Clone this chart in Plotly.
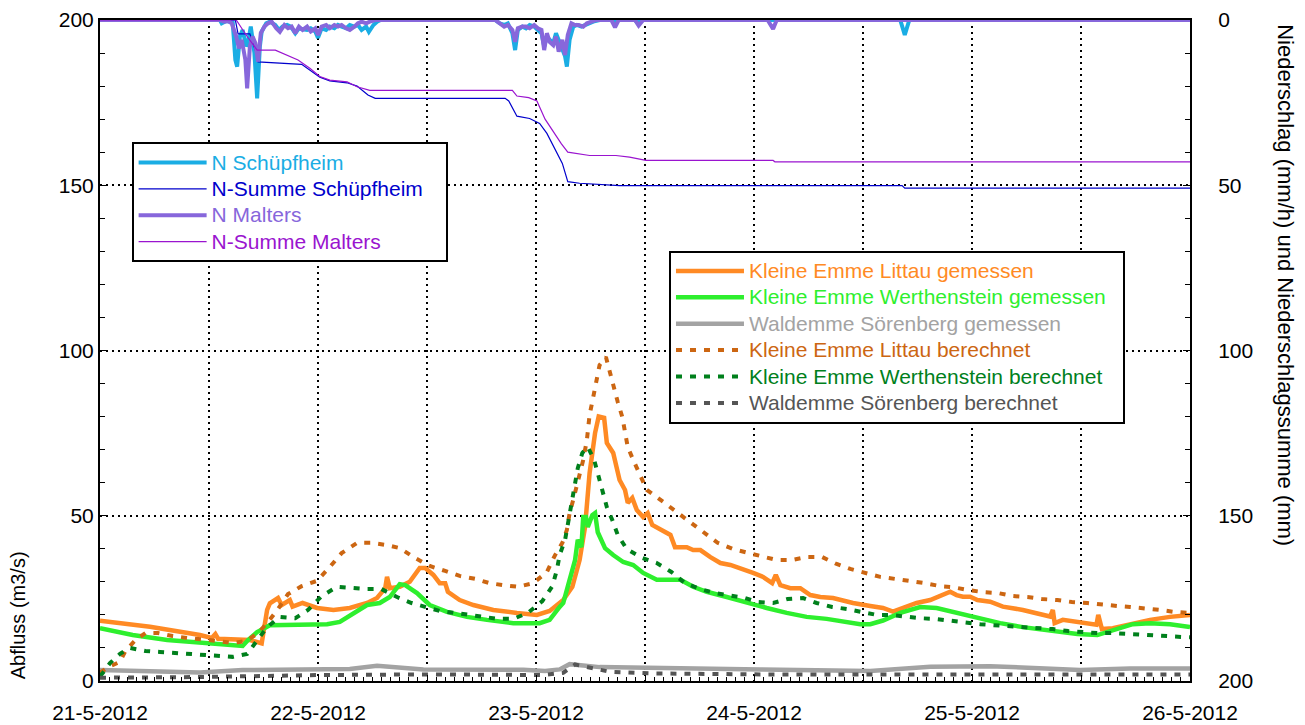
import pandas as pd
import plotly.graph_objs as go

START = pd.Timestamp("2012-05-21 00:00")

# (hours since 21-5-2012 00:00, value)
# Abfluss (m3/s), left axis
littau_gemessen = [
    (0.0, 18.2), (5.5, 16.4), (11.0, 13.9), (12.3, 13.0), (12.7, 14.2), (13.0, 12.8),
    (16.5, 12.4), (17.8, 11.4), (18.4, 21.5), (18.7, 23.5), (19.6, 25.1), (20.0, 23.0),
    (20.9, 24.5), (21.2, 22.5), (22.3, 23.6), (23.9, 22.1), (25.7, 21.5), (27.5, 22.1),
    (29.4, 23.6), (30.5, 25.1), (31.4, 28.1), (31.6, 31.5), (31.9, 28.1), (33.0, 28.5),
    (34.1, 30.0), (35.2, 34.2), (35.8, 34.2), (36.7, 32.1), (37.4, 29.6), (38.0, 29.6),
    (38.3, 27.0), (39.6, 24.5), (41.1, 23.0), (43.3, 21.5), (45.9, 20.6), (48.1, 20.0),
    (49.5, 21.2), (51.0, 24.5), (52.0, 28.5), (52.8, 36.6), (53.4, 46.6), (53.9, 62.9),
    (54.5, 75.0), (54.9, 80.0), (55.5, 79.6), (55.8, 72.0), (56.5, 69.0), (57.2, 60.8),
    (57.8, 57.8), (58.1, 53.9), (58.6, 55.4), (59.1, 51.7), (59.8, 49.6), (60.3, 50.8),
    (60.8, 47.2), (61.7, 45.7), (62.8, 44.2), (63.3, 40.5), (64.6, 40.5), (65.3, 39.6),
    (66.1, 39.6), (67.2, 37.5), (68.3, 35.7), (69.4, 35.1), (70.5, 34.2), (71.9, 32.7),
    (73.0, 31.5), (74.0, 29.6), (74.4, 32.1), (74.9, 29.0), (76.0, 28.1), (77.1, 28.1),
    (78.2, 26.0), (79.3, 25.4), (80.7, 25.1), (81.5, 24.5), (82.9, 23.6), (84.8, 22.7),
    (86.2, 22.1), (87.3, 21.0), (88.4, 22.1), (89.9, 23.6), (91.4, 24.5), (92.8, 26.3),
    (93.6, 27.0), (94.3, 26.0), (95.0, 25.5), (95.8, 25.5), (96.6, 24.5), (98.0, 24.0),
    (99.4, 22.5), (101.6, 21.5), (103.2, 20.6), (104.6, 19.5), (104.9, 21.5), (105.1, 17.5),
    (106.0, 18.5), (108.2, 17.5), (109.7, 17.0), (109.9, 20.0), (110.3, 15.7), (111.5, 16.0),
    (113.7, 17.5), (115.6, 18.5), (117.8, 19.4), (120.0, 20.0),
]

werthenstein_gemessen = [
    (0.0, 16.0), (3.6, 13.9), (7.4, 12.4), (11.0, 11.5), (14.6, 10.6), (15.7, 10.6),
    (16.3, 12.4), (17.3, 14.8), (18.7, 16.9), (20.6, 16.9), (22.8, 17.2), (25.0, 17.2),
    (26.4, 17.9), (27.9, 20.6), (29.4, 23.0), (30.8, 23.6), (31.9, 25.4), (33.0, 29.3),
    (33.6, 29.0), (34.9, 26.6), (36.3, 23.0), (38.2, 20.9), (40.4, 19.4), (42.6, 18.5),
    (45.5, 17.5), (48.4, 17.5), (49.5, 18.5), (50.6, 22.4), (51.0, 23.6), (51.7, 30.6),
    (52.3, 36.6), (52.6, 42.7), (53.0, 40.5), (53.2, 49.6), (53.5, 49.6), (53.7, 46.6),
    (54.2, 50.2), (54.5, 50.8), (54.8, 45.0), (55.6, 40.2), (56.5, 38.1), (57.6, 36.0),
    (58.7, 35.1), (59.8, 32.7), (61.3, 30.6), (62.4, 30.6), (63.9, 30.6), (65.3, 28.5),
    (66.8, 27.0), (69.0, 25.4), (71.2, 23.6), (73.4, 22.1), (75.6, 20.6), (77.8, 19.4),
    (80.0, 18.8), (82.2, 17.9), (83.7, 17.2), (84.8, 17.2), (86.2, 18.3), (88.1, 20.6),
    (90.3, 22.4), (92.1, 22.1), (94.3, 20.6), (96.6, 19.0), (99.1, 17.5), (101.6, 16.3),
    (104.6, 15.4), (107.6, 14.2), (109.8, 13.9), (111.5, 15.4), (113.7, 17.2), (115.6, 17.5),
    (117.8, 17.2), (120.0, 16.3),
]

waldemme_gemessen = [
    (0.0, 3.3), (5.5, 3.0), (11.0, 2.6), (15.7, 3.3), (24.6, 3.3), (27.5, 3.6), (30.5, 4.6),
    (33.0, 4.0), (35.6, 3.5), (46.6, 3.4), (49.0, 3.0), (50.6, 3.5), (51.7, 5.1), (55.0, 4.2),
    (60.6, 3.9), (72.7, 3.5), (84.8, 3.0), (91.4, 4.3), (98.0, 4.5), (103.5, 3.8),
    (107.9, 3.3), (113.4, 3.8), (120.0, 3.8),
]

littau_berechnet = [
    (0.0, 2.5), (0.9, 4.2), (2.2, 5.8), (2.8, 9.1), (3.9, 12.4), (5.0, 14.5), (6.4, 14.5),
    (8.0, 13.6), (9.7, 13.0), (11.3, 12.7), (13.0, 12.1), (14.6, 11.5), (16.1, 12.1),
    (17.4, 14.5), (18.5, 17.9), (19.6, 21.8), (20.7, 26.3), (22.2, 28.7), (23.9, 30.3),
    (25.3, 34.5), (26.6, 38.7), (28.3, 41.8), (29.9, 41.8), (31.6, 41.1), (33.0, 40.2),
    (34.7, 37.2), (36.3, 34.8), (38.0, 33.3), (39.6, 31.8), (41.3, 30.9), (42.9, 29.6),
    (44.4, 29.0), (46.0, 28.5), (47.7, 29.6), (49.2, 33.0), (50.1, 38.1), (50.9, 41.8),
    (51.4, 45.7), (51.7, 50.8), (52.1, 54.8), (52.6, 59.9), (53.2, 66.9), (53.6, 72.9),
    (53.9, 80.5), (54.3, 85.9), (54.7, 92.0), (55.0, 95.6), (55.7, 98.0), (56.1, 93.5),
    (56.7, 88.0), (57.0, 84.4), (57.5, 79.9), (57.8, 75.9), (58.1, 70.8), (58.7, 66.9),
    (59.4, 62.3), (60.2, 57.8), (62.0, 54.2), (63.5, 51.1), (65.0, 47.8), (66.4, 44.8),
    (68.0, 41.8), (69.7, 39.9), (71.3, 38.7), (73.0, 37.5), (74.5, 36.6), (76.2, 36.6),
    (77.8, 37.5), (79.5, 37.5), (81.1, 35.4), (82.6, 33.9), (84.2, 32.7), (85.9, 31.5),
    (87.5, 30.9), (89.2, 30.3), (90.8, 29.6), (92.5, 28.7), (93.9, 28.4), (95.6, 27.5),
    (97.2, 26.9), (98.9, 26.6), (100.5, 25.7), (102.1, 25.4), (103.7, 24.8), (105.4, 24.5),
    (107.0, 23.9), (108.7, 23.6), (110.3, 23.3), (112.0, 22.7), (113.4, 22.4), (115.0, 22.1),
    (116.7, 21.5), (118.3, 20.9), (120.0, 20.6),
]

werthenstein_berechnet = [
    (0.0, 1.5), (0.3, 2.4), (1.1, 5.4), (2.2, 8.2), (3.3, 10.0), (5.0, 9.1), (6.6, 8.8),
    (8.3, 8.5), (9.9, 8.2), (11.6, 7.9), (13.0, 7.6), (14.6, 7.3), (16.2, 8.2), (17.3, 12.4),
    (18.4, 16.3), (19.8, 19.4), (21.5, 19.0), (22.9, 21.5), (24.4, 25.7), (26.1, 28.5),
    (27.7, 28.1), (29.4, 27.8), (31.0, 27.8), (32.7, 25.4), (34.3, 23.6), (35.8, 22.4),
    (37.4, 21.2), (39.1, 20.6), (40.7, 20.0), (42.2, 19.4), (43.8, 18.8), (45.5, 18.8),
    (47.1, 20.6), (48.7, 24.2), (49.8, 28.7), (50.3, 33.6), (50.6, 38.1), (51.2, 42.7),
    (51.7, 50.8), (52.0, 55.7), (52.3, 59.9), (52.6, 64.4), (53.1, 69.0), (53.7, 70.8),
    (54.4, 66.9), (54.9, 61.7), (55.4, 57.2), (55.8, 52.6), (56.4, 48.7), (57.0, 44.2),
    (58.0, 39.9), (59.7, 37.2), (61.3, 35.7), (62.9, 33.0), (64.4, 29.6), (66.1, 27.8),
    (67.7, 26.6), (69.4, 25.7), (71.0, 25.1), (72.4, 23.9), (74.1, 23.6), (75.7, 24.8),
    (77.4, 25.1), (78.9, 23.6), (80.6, 22.4), (82.2, 21.8), (83.9, 20.9), (85.5, 20.0),
    (87.0, 20.0), (88.6, 19.4), (90.3, 19.0), (91.9, 18.8), (93.6, 18.2), (95.2, 17.9),
    (96.9, 17.2), (98.3, 16.9), (100.0, 16.6), (101.6, 16.3), (103.3, 16.0), (104.9, 15.7),
    (106.6, 15.1), (108.2, 14.8), (109.8, 14.5), (111.4, 14.5), (113.1, 14.2), (114.7, 13.9),
    (116.4, 13.6), (118.0, 13.3), (120.0, 13.2),
]

waldemme_berechnet = [
    (0.0, 1.0), (11.0, 1.2), (24.2, 1.8), (36.3, 2.0), (48.8, 1.8), (51.0, 2.5), (52.3, 5.0),
    (53.9, 4.0), (56.1, 2.8), (60.6, 2.3), (72.7, 2.0), (96.9, 2.0), (120.0, 2.0),
]

# Niederschlag (mm/h) and Niederschlagssumme (mm), right axis (reversed)
n_schuepfheim = [
    (0.0, 0), (13.2, 0), (13.4, 1.0), (13.9, 0.3), (14.3, 0.5), (14.6, 0.3), (14.9, 12.1),
    (15.1, 14.1), (15.4, 5.0), (15.7, 3.0), (16.1, 8.0), (16.3, 6.7), (16.6, 2.0), (17.0, 10.0),
    (17.3, 23.7), (17.6, 8.0), (17.8, 3.5), (18.3, 1.0), (18.7, 0.5), (19.3, 1.5), (19.7, 3.0),
    (20.1, 2.0), (20.6, 1.5), (21.0, 2.0), (21.5, 4.0), (21.9, 2.5), (22.3, 2.8), (22.8, 3.0),
    (23.2, 2.5), (23.7, 3.5), (24.0, 5.4), (24.4, 2.5), (24.9, 3.0), (25.3, 2.0), (25.8, 2.5),
    (26.2, 1.5), (26.6, 2.0), (27.1, 2.5), (27.5, 1.5), (28.0, 2.0), (28.4, 1.5), (28.8, 3.0),
    (29.3, 2.0), (29.6, 3.6), (30.1, 1.5), (30.5, 0.5), (30.9, 0),
    (43.5, 0), (44.0, 1.0), (44.5, 1.5), (44.9, 1.0), (45.4, 4.0), (45.7, 9.1), (46.0, 3.0),
    (46.5, 2.0), (46.9, 2.5), (47.3, 1.5), (47.8, 2.0), (48.2, 3.0), (48.6, 4.0), (48.9, 8.0),
    (49.2, 5.0), (49.5, 6.0), (49.9, 7.0), (50.2, 4.0), (50.5, 6.0), (50.9, 9.0), (51.2, 11.0),
    (51.4, 14.1), (51.7, 6.0), (52.1, 2.0), (52.5, 1.5), (53.0, 2.0), (53.4, 1.5), (53.8, 1.0),
    (54.3, 0.5), (55.0, 0), (56.3, 0), (56.6, 0.5), (56.9, 0), (58.9, 0), (59.2, 1.0),
    (59.6, 0), (88.1, 0), (88.6, 4.5), (89.1, 0), (120.0, 0),
]

n_summe_schuepfheim = [
    (0.0, 0), (14.9, 0), (15.2, 4.2), (16.5, 4.2), (17.2, 10.0), (17.4, 12.7), (22.2, 13.4),
    (24.2, 17.3), (25.3, 18.4), (27.2, 19.0), (28.3, 20.0), (29.5, 22.7), (30.3, 23.7),
    (44.6, 23.7), (45.0, 24.5), (45.9, 29.1), (47.3, 29.8), (48.4, 31.3), (49.2, 34.3),
    (50.3, 40.3), (50.9, 43.4), (51.5, 48.9), (52.8, 49.4), (57.2, 50.1), (88.3, 50.1),
    (88.6, 50.9), (120.0, 50.9),
]

n_malters = [
    (0.0, 0), (13.2, 0), (13.7, 0.5), (14.1, 0.3), (14.5, 1.0), (15.0, 5.0), (15.3, 8.6),
    (15.6, 6.0), (16.0, 12.0), (16.2, 20.7), (16.5, 8.0), (16.8, 5.0), (17.1, 7.0),
    (17.4, 12.6), (17.7, 4.0), (18.1, 2.0), (18.5, 1.0), (18.9, 0.5), (19.4, 2.5), (19.8, 3.6),
    (20.3, 1.5), (20.7, 2.5), (21.1, 2.0), (21.5, 4.0), (21.9, 2.0), (22.3, 3.0), (22.8, 2.0),
    (23.2, 3.5), (23.7, 2.5), (24.0, 4.5), (24.4, 2.0), (24.9, 1.5), (25.3, 2.5), (25.8, 1.5),
    (26.2, 2.0), (26.6, 1.5), (27.1, 2.5), (27.5, 3.0), (28.0, 2.0), (28.4, 1.0), (28.8, 0.5),
    (29.3, 1.0), (29.7, 0.5), (30.3, 0),
    (43.5, 0), (44.0, 1.0), (44.5, 2.0), (44.9, 1.5), (45.4, 3.0), (45.7, 6.6), (46.0, 2.5),
    (46.5, 2.0), (46.9, 2.0), (47.3, 2.5), (47.8, 1.5), (48.2, 2.5), (48.6, 3.0), (48.9, 9.1),
    (49.2, 4.0), (49.5, 6.6), (49.9, 7.6), (50.2, 5.0), (50.5, 9.6), (50.9, 6.0), (51.2, 10.6),
    (51.5, 4.5), (51.9, 1.0), (52.3, 1.5), (52.7, 1.5), (53.2, 2.0), (53.6, 1.0), (54.1, 0.5),
    (54.6, 0), (56.3, 0), (56.7, 2.2), (57.1, 0), (58.9, 0), (59.3, 1.7), (59.8, 0),
    (73.5, 0), (74.1, 2.7), (74.5, 0), (120.0, 0),
]

n_summe_malters = [
    (0.0, 0), (15.0, 0), (16.2, 5.0), (17.3, 9.1), (19.3, 9.1), (20.3, 10.3), (21.8, 12.1),
    (23.1, 14.6), (24.2, 17.1), (25.3, 18.2), (27.2, 18.7), (28.3, 20.2), (29.7, 21.3),
    (45.4, 21.3), (45.9, 23.0), (47.2, 23.5), (48.1, 24.5), (49.0, 30.0), (49.7, 33.0),
    (50.8, 37.5), (51.5, 40.0), (53.9, 41.0), (56.8, 41.0), (58.3, 41.5), (60.1, 42.5),
    (74.1, 42.5), (74.3, 42.9), (120.0, 42.9),
]

day_labels = ["21-5-2012", "22-5-2012", "23-5-2012", "24-5-2012", "25-5-2012", "26-5-2012"]
tick_hours = [0, 12, 24, 36, 48, 60, 72, 84, 96, 108, 120]

FONT = "Liberation Sans, Arial, Helvetica, sans-serif"
NBSP = "\u00a0"


def to_time(hours):
    return START + pd.to_timedelta(hours, unit="h")


fig = go.Figure()


def add_series(pairs, name, color, width, dash="solid", yaxis="y", legend="legend", pad=0):
    hours = [p[0] for p in pairs]
    values = [p[1] for p in pairs]
    # legend font stays small (row height), the label itself is drawn at 21px
    label = f"<span style='color:{color};font-size:21px'>{name}{NBSP * pad}</span>"
    fig.add_trace(
        go.Scatter(
            x=to_time(hours),
            y=values,
            mode="lines",
            name=label,
            line=dict(color=color, width=width, dash=dash),
            yaxis=yaxis,
            legend=legend,
            hoverinfo="x+y",
        )
    )


# Niederschlag (right axis)
add_series(n_schuepfheim, "N Schüpfheim", "#1AADE4", 4, yaxis="y2")
add_series(n_summe_schuepfheim, "N-Summe Schüpfheim", "#0000CC", 1.2, yaxis="y2", pad=3)
add_series(n_malters, "N Malters", "#8767DB", 4, yaxis="y2")
add_series(n_summe_malters, "N-Summe Malters", "#9A14CF", 1.2, yaxis="y2")

# Abfluss (left axis)
DASH = "6px,8px"
add_series(littau_gemessen, "Kleine Emme Littau gemessen", "#FF8A24", 4.5, legend="legend2")
add_series(werthenstein_gemessen, "Kleine Emme Werthenstein gemessen", "#2EEF2E", 4.5,
           legend="legend2", pad=2)
add_series(waldemme_gemessen, "Waldemme Sörenberg gemessen", "#A3A3A3", 4.5, legend="legend2")
add_series(littau_berechnet, "Kleine Emme Littau berechnet", "#CC6612", 4, DASH, legend="legend2")
add_series(werthenstein_berechnet, "Kleine Emme Werthenstein berechnet", "#00801C", 4, DASH,
           legend="legend2")
add_series(waldemme_berechnet, "Waldemme Sörenberg berechnet", "#555555", 4, DASH, legend="legend2")

tick_text = [day_labels[i // 2] if i % 2 == 0 else "" for i in range(len(tick_hours))]

legend_style = dict(
    xanchor="left",
    yanchor="top",
    bgcolor="white",
    bordercolor="black",
    borderwidth=2,
    font=dict(family=FONT, size=18),
    itemwidth=68,
    tracegroupgap=0,
)

fig.update_layout(
    width=1305,
    height=725,
    margin=dict(l=100, r=115, t=20, b=44),
    paper_bgcolor="white",
    plot_bgcolor="white",
    font=dict(family=FONT, size=21, color="black"),
    showlegend=True,
    legend=dict(legend_style, x=0.029, y=0.815),
    legend2=dict(legend_style, x=0.522, y=0.651),
    xaxis=dict(
        type="date",
        range=[to_time([0])[0], to_time([120])[0]],
        tickmode="array",
        tickvals=to_time(tick_hours),
        ticktext=tick_text,
        ticks="inside",
        ticklen=6,
        tickcolor="black",
        showline=True,
        linecolor="black",
        linewidth=2,
        mirror=True,
        showgrid=True,
        gridcolor="black",
        griddash="2px,4px",
        gridwidth=1.5,
        zeroline=False,
        minor=dict(
            tickmode="linear",
            tick0=to_time([0])[0],
            dtick=3600000,
            ticks="inside",
            ticklen=4,
            tickcolor="black",
            showgrid=False,
        ),
        ticklabelstandoff=12,
        automargin=False,
    ),
    yaxis=dict(
        range=[0, 200],
        tickmode="linear",
        tick0=0,
        dtick=50,
        ticks="inside",
        ticklen=7,
        tickcolor="black",
        showline=True,
        linecolor="black",
        linewidth=2,
        mirror=True,
        showgrid=True,
        gridcolor="black",
        griddash="2px,4px",
        gridwidth=1.5,
        zeroline=False,
        minor=dict(dtick=10, ticks="inside", ticklen=5, tickcolor="black", showgrid=False),
        automargin=False,
    ),
    yaxis2=dict(
        overlaying="y",
        side="right",
        range=[200, 0],
        tickmode="linear",
        tick0=0,
        dtick=50,
        ticks="inside",
        ticklen=7,
        tickcolor="black",
        showline=True,
        linecolor="black",
        linewidth=2,
        showgrid=False,
        zeroline=False,
        minor=dict(dtick=10, ticks="inside", ticklen=5, tickcolor="black", showgrid=False),
        ticklabelstandoff=22,
        automargin=False,
    ),
    annotations=[
        dict(
            text="Abfluss (m3/s)",
            xref="paper",
            yref="paper",
            x=-0.075,
            y=0,
            xanchor="center",
            yanchor="bottom",
            textangle=-90,
            showarrow=False,
            font=dict(size=20),
        ),
        dict(
            text="Niederschlag (mm/h) und Niederschlagssumme (mm)",
            xref="paper",
            yref="paper",
            x=1.087,
            y=0.997,
            xanchor="center",
            yanchor="top",
            textangle=90,
            showarrow=False,
            font=dict(size=22),
        ),
    ],
)

# the page body has a default 8px margin; drop it so the figure sits at the corner
fig.write_html(
    "out.html",
    config={"displayModeBar": False},
    post_script="document.body.style.margin='0';",
)
